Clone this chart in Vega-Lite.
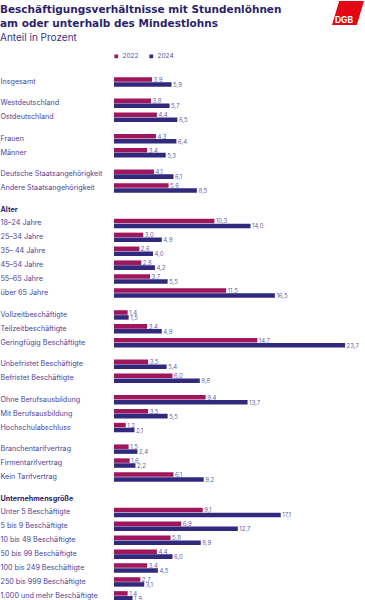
{
  "$schema": "https://vega.github.io/schema/vega-lite/v6.json",
  "padding": {"left": 0, "top": 1, "right": 0, "bottom": 0},
  "background": "white",
  "config": {
    "view": {"stroke": null},
    "font": "Inter",
    "locale": {"number": {"decimal": ",", "thousands": ".", "grouping": [3], "currency": ["", " €"]}}
  },
  "resolve": {"legend": {"color": "independent"}},
  "spacing": 10,
  "vconcat": [
    {
      "hconcat": [
        {
          "width": 186,
          "height": 42,
          "title": {
            "text": ["Beschäftigungsverhältnisse mit Stundenlöhnen", "am oder unterhalb des Mindestlohns"],
            "subtitle": "Anteil in Prozent",
            "anchor": "start",
            "frame": "group",
            "dx": -114,
            "offset": -42,
            "font": "DejaVu Sans",
            "fontSize": 10.5,
            "fontWeight": "bold",
            "color": "#2e1f6b",
            "lineHeight": 14,
            "subtitleFont": "Inter",
            "subtitleFontSize": 10,
            "subtitleFontWeight": "normal",
            "subtitleColor": "#3e2f86",
            "subtitlePadding": 4
          },
          "data": {"values": []},
          "mark": {"type": "point", "opacity": 0},
          "encoding": {}
        },
        {
          "width": 32,
          "height": 24,
          "data": {"values": [{"logo": "DGB"}]},
          "layer": [
            {
              "mark": {"type": "point", "shape": "M -1 0.75 L 0.55 0.75 L 1 -0.75 L -0.55 -0.75 Z", "size": 1024, "filled": true, "color": "#e30613", "opacity": 1},
              "encoding": {}
            },
            {
              "mark": {"type": "text", "color": "white", "fontWeight": "bold", "fontSize": 8.5, "font": "Inter", "dx": -4, "dy": 7},
              "encoding": {"text": {"field": "logo"}}
            }
          ]
        }
      ],
      "spacing": 32
    },
    {
      "data": {"values": [
        {"group": "Gesamt", "label": "Insgesamt", "year": "2022", "value": 3.9},
        {"group": "Gesamt", "label": "Insgesamt", "year": "2024", "value": 5.9},
        {"group": "Region", "label": "Westdeutschland", "year": "2022", "value": 3.8},
        {"group": "Region", "label": "Westdeutschland", "year": "2024", "value": 5.7},
        {"group": "Region", "label": "Ostdeutschland", "year": "2022", "value": 4.4},
        {"group": "Region", "label": "Ostdeutschland", "year": "2024", "value": 6.5},
        {"group": "Geschlecht", "label": "Frauen", "year": "2022", "value": 4.3},
        {"group": "Geschlecht", "label": "Frauen", "year": "2024", "value": 6.4},
        {"group": "Geschlecht", "label": "Männer", "year": "2022", "value": 3.4},
        {"group": "Geschlecht", "label": "Männer", "year": "2024", "value": 5.3},
        {"group": "Staatsangehörigkeit", "label": "Deutsche Staatsangehörigkeit", "year": "2022", "value": 4.1},
        {"group": "Staatsangehörigkeit", "label": "Deutsche Staatsangehörigkeit", "year": "2024", "value": 6.1},
        {"group": "Staatsangehörigkeit", "label": "Andere Staatsangehörigkeit", "year": "2022", "value": 5.6},
        {"group": "Staatsangehörigkeit", "label": "Andere Staatsangehörigkeit", "year": "2024", "value": 8.5},
        {"group": "Alter", "label": "Alter", "year": "2022", "value": 0},
        {"group": "Alter", "label": "18–24 Jahre", "year": "2022", "value": 10.3},
        {"group": "Alter", "label": "18–24 Jahre", "year": "2024", "value": 14.0},
        {"group": "Alter", "label": "25–34 Jahre", "year": "2022", "value": 3.0},
        {"group": "Alter", "label": "25–34 Jahre", "year": "2024", "value": 4.9},
        {"group": "Alter", "label": "35– 44 Jahre", "year": "2022", "value": 2.6},
        {"group": "Alter", "label": "35– 44 Jahre", "year": "2024", "value": 4.0},
        {"group": "Alter", "label": "45–54 Jahre", "year": "2022", "value": 2.8},
        {"group": "Alter", "label": "45–54 Jahre", "year": "2024", "value": 4.2},
        {"group": "Alter", "label": "55–65 Jahre", "year": "2022", "value": 3.7},
        {"group": "Alter", "label": "55–65 Jahre", "year": "2024", "value": 5.5},
        {"group": "Alter", "label": "über 65 Jahre", "year": "2022", "value": 11.5},
        {"group": "Alter", "label": "über 65 Jahre", "year": "2024", "value": 16.5},
        {"group": "Arbeitszeit", "label": "Vollzeitbeschäftigte", "year": "2022", "value": 1.4},
        {"group": "Arbeitszeit", "label": "Vollzeitbeschäftigte", "year": "2024", "value": 1.5},
        {"group": "Arbeitszeit", "label": "Teilzeitbeschäftigte", "year": "2022", "value": 3.4},
        {"group": "Arbeitszeit", "label": "Teilzeitbeschäftigte", "year": "2024", "value": 4.9},
        {"group": "Arbeitszeit", "label": "Geringfügig Beschäftigte", "year": "2022", "value": 14.7},
        {"group": "Arbeitszeit", "label": "Geringfügig Beschäftigte", "year": "2024", "value": 23.7},
        {"group": "Befristung", "label": "Unbefristet Beschäftigte", "year": "2022", "value": 3.5},
        {"group": "Befristung", "label": "Unbefristet Beschäftigte", "year": "2024", "value": 5.4},
        {"group": "Befristung", "label": "Befristet Beschäftigte", "year": "2022", "value": 6.0},
        {"group": "Befristung", "label": "Befristet Beschäftigte", "year": "2024", "value": 8.8},
        {"group": "Ausbildung", "label": "Ohne Berufsausbildung", "year": "2022", "value": 9.4},
        {"group": "Ausbildung", "label": "Ohne Berufsausbildung", "year": "2024", "value": 13.7},
        {"group": "Ausbildung", "label": "Mit Berufsausbildung", "year": "2022", "value": 3.5},
        {"group": "Ausbildung", "label": "Mit Berufsausbildung", "year": "2024", "value": 5.5},
        {"group": "Ausbildung", "label": "Hochschulabschluss", "year": "2022", "value": 1.2},
        {"group": "Ausbildung", "label": "Hochschulabschluss", "year": "2024", "value": 2.1},
        {"group": "Tarif", "label": "Branchentarifvertrag", "year": "2022", "value": 1.5},
        {"group": "Tarif", "label": "Branchentarifvertrag", "year": "2024", "value": 2.4},
        {"group": "Tarif", "label": "Firmentarifvertrag", "year": "2022", "value": 1.6},
        {"group": "Tarif", "label": "Firmentarifvertrag", "year": "2024", "value": 2.2},
        {"group": "Tarif", "label": "Kein Tarifvertrag", "year": "2022", "value": 6.1},
        {"group": "Tarif", "label": "Kein Tarifvertrag", "year": "2024", "value": 9.2},
        {"group": "Unternehmensgröße", "label": "Unternehmensgröße", "year": "2022", "value": 0},
        {"group": "Unternehmensgröße", "label": "Unter 5 Beschäftigte", "year": "2022", "value": 9.1},
        {"group": "Unternehmensgröße", "label": "Unter 5 Beschäftigte", "year": "2024", "value": 17.1},
        {"group": "Unternehmensgröße", "label": "5 bis 9 Beschäftigte", "year": "2022", "value": 6.9},
        {"group": "Unternehmensgröße", "label": "5 bis 9 Beschäftigte", "year": "2024", "value": 12.7},
        {"group": "Unternehmensgröße", "label": "10 bis 49 Beschäftigte", "year": "2022", "value": 5.8},
        {"group": "Unternehmensgröße", "label": "10 bis 49 Beschäftigte", "year": "2024", "value": 8.9},
        {"group": "Unternehmensgröße", "label": "50 bis 99 Beschäftigte", "year": "2022", "value": 4.4},
        {"group": "Unternehmensgröße", "label": "50 bis 99 Beschäftigte", "year": "2024", "value": 6.0},
        {"group": "Unternehmensgröße", "label": "100 bis 249 Beschäftigte", "year": "2022", "value": 3.4},
        {"group": "Unternehmensgröße", "label": "100 bis 249 Beschäftigte", "year": "2024", "value": 4.5},
        {"group": "Unternehmensgröße", "label": "250 bis 999 Beschäftigte", "year": "2022", "value": 2.7},
        {"group": "Unternehmensgröße", "label": "250 bis 999 Beschäftigte", "year": "2024", "value": 3.1},
        {"group": "Unternehmensgröße", "label": "1.000 und mehr Beschäftigte", "year": "2022", "value": 1.4},
        {"group": "Unternehmensgröße", "label": "1.000 und mehr Beschäftigte", "year": "2024", "value": 1.9}
      ]},
      "facet": {
        "row": {
          "field": "group",
          "type": "nominal",
          "sort": ["Gesamt", "Region", "Geschlecht", "Staatsangehörigkeit", "Alter", "Arbeitszeit", "Befristung", "Ausbildung", "Tarif", "Unternehmensgröße"],
          "header": {"labels": false, "title": null},
          "title": null
        }
      },
      "spacing": {"row": 7.4},
      "resolve": {"scale": {"y": "independent", "yOffset": "independent"}, "axis": {"y": "independent"}},
      "spec": {
        "width": 234,
        "height": {"step": 13.9, "for": "position"},
        "encoding": {
          "y": {
            "field": "label",
            "type": "nominal",
            "sort": null,
            "scale": {"paddingInner": 0.32, "paddingOuter": 0.16},
            "axis": {
              "title": null,
              "domain": false,
              "ticks": false,
              "labelAlign": "left",
              "labelPadding": 114,
              "labelFont": "Inter",
              "labelFontSize": 7.2,
              "labelLimit": 200,
              "labelOverlap": false,
              "labelColor": {"condition": {"test": "datum.value === 'Alter' || datum.value === 'Unternehmensgröße'", "value": "#2e1f6b"}, "value": "#4f4396"},
              "labelFontWeight": {"condition": {"test": "datum.value === 'Alter' || datum.value === 'Unternehmensgröße'", "value": "bold"}, "value": "normal"}
            }
          },
          "x": {"field": "value", "type": "quantitative", "scale": {"domain": [0, 24], "nice": false}, "axis": null},
          "yOffset": {"field": "year", "type": "nominal", "scale": {"domain": ["2022", "2024"], "paddingInner": 0.08}}
        },
        "layer": [
          {
            "mark": {"type": "bar"},
            "encoding": {
              "color": {
                "field": "year",
                "type": "nominal",
                "scale": {"domain": ["2022", "2024"], "range": ["#a0165c", "#30297d"]},
                "legend": {
                  "title": null,
                  "orient": "none",
                  "legendX": -1,
                  "legendY": -22,
                  "direction": "horizontal",
                  "symbolType": "square",
                  "symbolSize": 14,
                  "symbolStrokeWidth": 0,
                  "labelFont": "Inter",
                  "labelFontSize": 6.5,
                  "labelColor": "#5b4f9e",
                  "labelOffset": 3,
                  "columnPadding": 9
                }
              }
            }
          },
          {
            "transform": [{"filter": "datum.value > 0"}],
            "mark": {"type": "text", "align": "left", "baseline": "middle", "dx": 1.5, "dy": 0.5, "fontSize": 6, "font": "Inter", "color": "#6a5fa8"},
            "encoding": {"text": {"field": "value", "type": "quantitative", "format": ".1f"}}
          }
        ]
      }
    }
  ]
}
